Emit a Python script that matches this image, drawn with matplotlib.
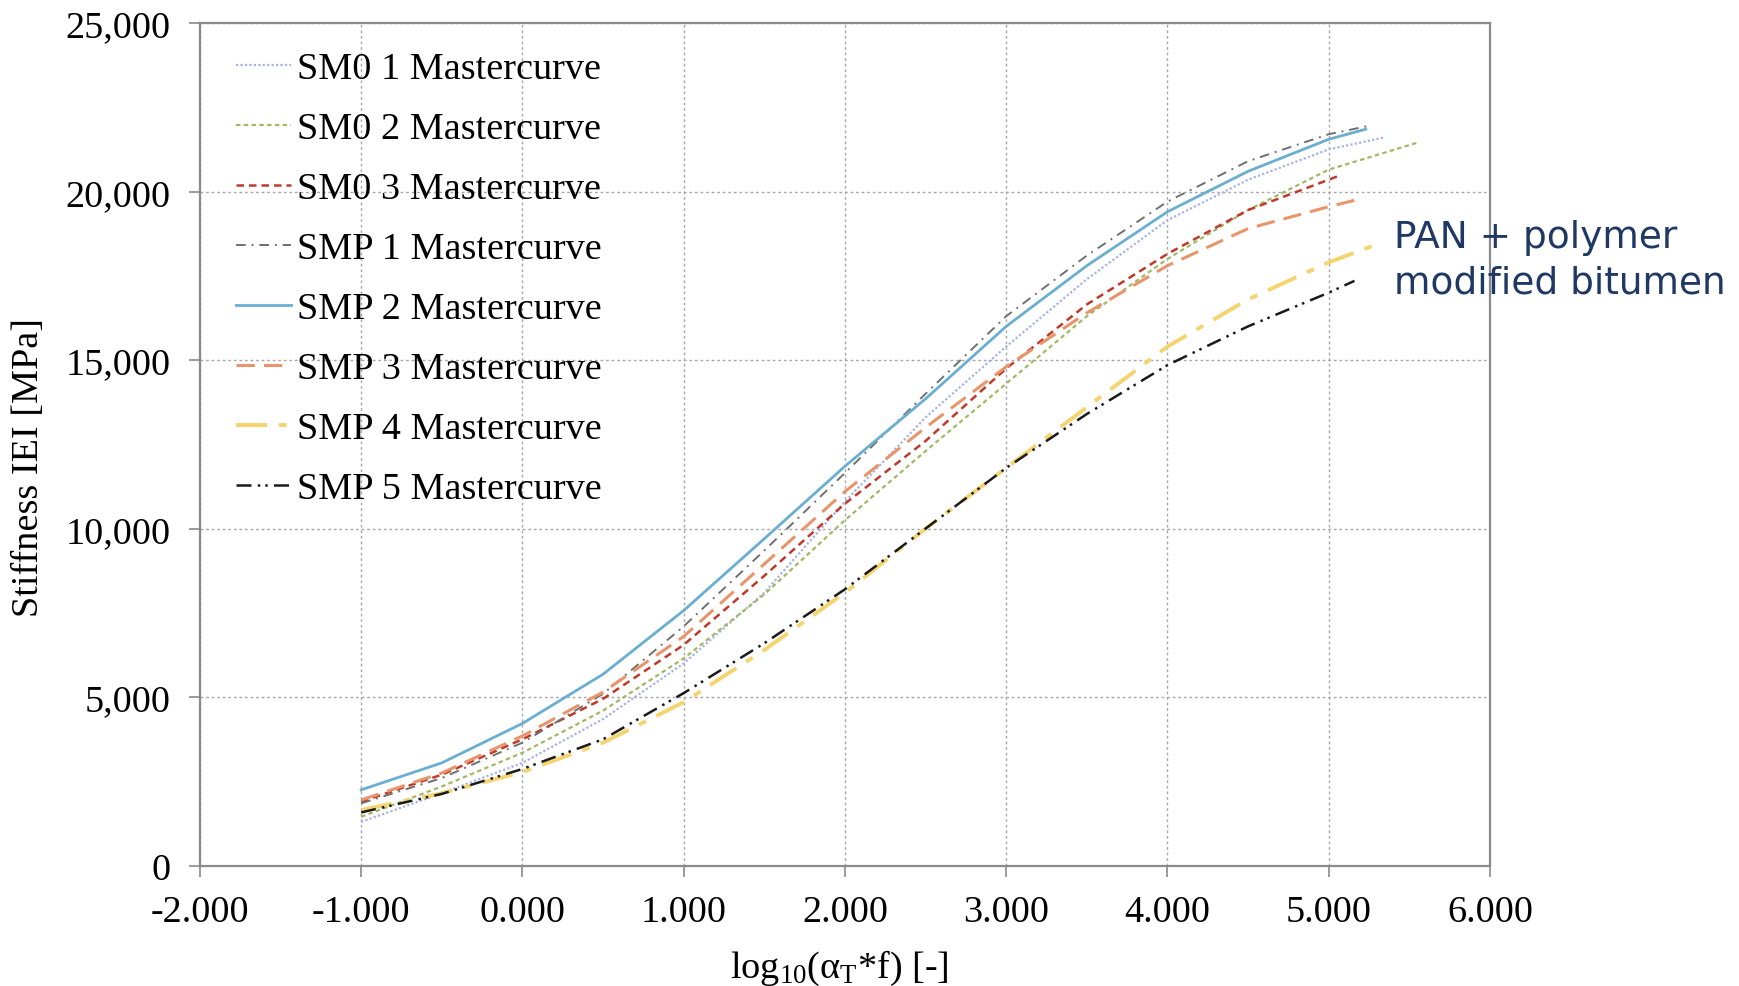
import matplotlib
matplotlib.use("Agg")
import matplotlib.pyplot as plt
from matplotlib.ticker import FuncFormatter, MultipleLocator

# ======================
# Mastercurve data
# ======================
x_grid = [-1.0, -0.5, 0.0, 0.5, 1.0, 1.5, 2.0, 2.5, 3.0, 3.5, 4.0, 4.5, 5.0]

sm0_1 = [1300, 2150, 3050, 4350, 6000, 8100, 10800, 13300, 15400, 17400, 19150, 20350, 21250]
sm0_2 = [1450, 2350, 3350, 4600, 6150, 8050, 10250, 12300, 14300, 16300, 18000, 19450, 20650]
sm0_3 = [1900, 2700, 3750, 4950, 6550, 8600, 10740, 12600, 14750, 16650, 18150, 19450, 20350]
smp_1 = [1850, 2600, 3650, 5100, 7100, 9350, 11650, 14000, 16300, 18100, 19700, 20900, 21700]
smp_2 = [2250, 3050, 4220, 5680, 7570, 9700, 11850, 13850, 16000, 17800, 19400, 20600, 21550]
smp_3 = [1950, 2750, 3850, 5150, 6800, 8950, 11100, 13000, 14800, 16400, 17800, 18900, 19550]
smp_4 = [1650, 2150, 2780, 3650, 4850, 6400, 8100, 10000, 11800, 13600, 15400, 16800, 17900]
smp_5 = [1580, 2130, 2870, 3750, 5120, 6600, 8200, 10000, 11800, 13400, 14850, 16000, 17000]

# last point of each curve (they stop at different frequencies)
end_x = [5.34, 5.55, 5.08, 5.25, 5.23, 5.17, 5.28, 5.16]
end_y = [21600, 21450, 20500, 21950, 21850, 19750, 18400, 17350]

labels = ["SM0 1 Mastercurve", "SM0 2 Mastercurve", "SM0 3 Mastercurve",
          "SMP 1 Mastercurve", "SMP 2 Mastercurve", "SMP 3 Mastercurve",
          "SMP 4 Mastercurve", "SMP 5 Mastercurve"]
series = [sm0_1, sm0_2, sm0_3, smp_1, smp_2, smp_3, smp_4, smp_5]

styles = [
    dict(color="#a7b2e2", lw=1.6, ls=(0, (1, 1))),
    dict(color="#a3b865", lw=1.6, ls=(0, (2, 1.5))),
    dict(color="#c0392b", lw=1.8, ls=(0, (3, 2))),
    dict(color="#707070", lw=1.4, ls=(0, (5, 3, 1, 3))),
    dict(color="#6aaed0", lw=2.0, ls="-"),
    dict(color="#e8956c", lw=2.2, ls=(0, (6, 3))),
    dict(color="#f5d36e", lw=2.8, ls=(0, (8, 3, 2, 3))),
    dict(color="#1a1a1a", lw=1.8, ls=(0, (6, 2.5, 1, 2, 1, 2.5))),
]

FS = 27.5

# ======================
# Figure
# ======================
plt.rcParams["font.family"] = ["Liberation Serif", "DejaVu Serif"]
plt.rcParams["mathtext.fontset"] = "custom"
plt.rcParams["mathtext.rm"] = "Liberation Serif"
plt.rcParams["mathtext.it"] = "Liberation Serif:italic"

fig = plt.figure(figsize=(17.4, 9.87), dpi=100)
ax = fig.add_axes([0.1149, 0.1219, 0.7414, 0.8538])

for vals, ex, ey, lab, st in zip(series, end_x, end_y, labels, styles):
    ax.plot(x_grid + [ex], vals + [ey], label=lab, **st)

ax.set_xlim(-2, 6)
ax.set_ylim(0, 25000)
ax.xaxis.set_major_locator(MultipleLocator(1))
ax.yaxis.set_major_locator(MultipleLocator(5000))
ax.xaxis.set_major_formatter(FuncFormatter(lambda v, p: f"{v:.3f}"))
ax.yaxis.set_major_formatter(FuncFormatter(lambda v, p: f"{v:,.0f}"))

ax.grid(True, color="#a8a8a8", ls=(0, (2, 2)), lw=1.0)
ax.set_axisbelow(True)
for sp in ax.spines.values():
    sp.set_color("#8a8a8a")
    sp.set_linewidth(1.6)

ax.tick_params(axis="both", labelsize=FS, color="#8a8a8a", length=8, width=1.2)
ax.tick_params(axis="y", pad=13)
ax.tick_params(axis="x", pad=13)

ax.set_xlabel(r"log$_{\mathregular{10}}$(α$_{\mathregular{T}}$*f) [-]", fontsize=FS)
ax.set_ylabel("Stiffness IEI [MPa]", fontsize=FS)
ax.xaxis.set_label_coords(0.496, -0.097)
ax.yaxis.set_label_coords(-0.119, 0.474)

ax.legend(loc="upper left", bbox_to_anchor=(0.028, 0.966), frameon=False,
          fontsize=FS, handlelength=1.45, handletextpad=0.15,
          labelspacing=0.66, borderpad=0, borderaxespad=0)

fig.text(1394 / 1740, 1 - 261 / 987, "PAN + polymer\nmodified bitumen",
         family="DejaVu Sans", fontsize=27, color="#1f3864",
         ha="left", va="center", linespacing=1.33)

fig.savefig("out.png", dpi=100)
